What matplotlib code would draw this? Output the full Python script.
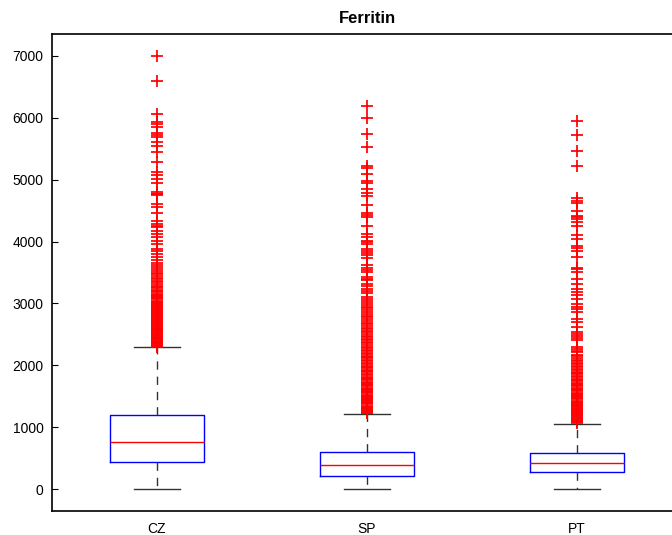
import matplotlib
matplotlib.use("Agg")
import matplotlib.pyplot as plt

plt.rcParams['font.family'] = ['Liberation Sans', 'DejaVu Sans']

categories = ["CZ", "SP", "PT"]
q1 = [440, 207, 272]
medians = [761, 386, 418]
q3 = [1196, 609, 587]
whisker_low = [0, 0, 0]
whisker_high = [2290, 1215, 1055]

outliers_cz = [
    2305, 2318, 2330, 2342, 2355, 2368, 2380, 2395, 2410, 2422, 2436, 2450, 2465, 2480,
    2494, 2508, 2522, 2537, 2550, 2566, 2580, 2596, 2610, 2625, 2640, 2656, 2670, 2686,
    2700, 2716, 2732, 2748, 2762, 2778, 2795, 2810, 2826, 2842, 2858, 2875, 2890, 2906,
    2922, 2940, 2958, 2975, 2992, 3010, 3028, 3046, 3065, 3084, 3102, 3120, 3140, 3160,
    3180, 3200, 3222, 3245, 3268, 3290, 3315, 3340, 3365, 3390, 3415, 3440, 3470, 3500,
    3530, 3560, 3590, 3620,
    3655, 3694, 3747, 3801, 3840, 3882, 3962, 4016, 4070, 4124, 4177, 4231, 4258, 4285,
    4339, 4457, 4553, 4608, 4750, 4765, 4775,
    4795, 4947, 5011, 5076, 5118, 5290, 5452, 5548, 5602, 5682, 5721, 5753, 5855, 5892,
    5935, 6060, 6585, 7000,
]
outliers_sp = [
    1225, 1240, 1255, 1270, 1285, 1300, 1318, 1335, 1352, 1370, 1388, 1405, 1422, 1440,
    1458, 1476, 1494, 1512, 1530, 1548, 1566, 1584, 1602, 1620, 1640, 1660, 1680, 1700,
    1720, 1740, 1760, 1780, 1800, 1820, 1842, 1864, 1886, 1908, 1930, 1952, 1974, 1996,
    2018, 2040, 2064, 2088, 2112, 2136, 2160, 2184, 2208, 2232, 2256, 2280, 2305, 2330,
    2355, 2380, 2405, 2430, 2456, 2482, 2508, 2534, 2560, 2586, 2612, 2638, 2665, 2692,
    2720, 2748, 2776, 2804, 2832, 2860, 2890, 2920, 2950, 2980, 3010, 3040, 3070, 3100,
    3166, 3200, 3240, 3280, 3317, 3371, 3400, 3424, 3505, 3540, 3580, 3613, 3742, 3780,
    3820, 3855, 3882, 3968, 3990, 4016, 4070, 4124, 4258, 4392, 4430, 4462, 4591, 4742,
    4785, 4850, 4946, 4984, 5091, 5183, 5226, 5522, 5737, 5989, 6194,
]
outliers_pt = [
    1070, 1085, 1100, 1115, 1130, 1146, 1162, 1178, 1194, 1210, 1226, 1242, 1258, 1275,
    1292, 1309, 1326, 1343, 1360, 1378, 1396, 1414, 1432, 1450, 1468, 1486, 1505, 1524,
    1543, 1562, 1581, 1600, 1620, 1640, 1660, 1680, 1700, 1722, 1744, 1766, 1788, 1810,
    1832, 1855, 1878, 1901, 1924, 1948, 1972, 1996, 2020, 2045, 2070, 2095, 2120, 2145,
    2165,
    2215, 2240, 2270, 2296, 2403, 2440, 2470, 2500, 2538, 2618, 2699, 2753, 2860, 2914,
    2950, 2995, 3075, 3129, 3183, 3237, 3317, 3398, 3505, 3559, 3575, 3747, 3855, 3898,
    3935, 4043, 4113, 4258, 4312, 4366, 4392, 4419, 4500, 4618, 4661, 4704, 5226, 5457,
    5726, 5952,
]
outliers = [outliers_cz, outliers_sp, outliers_pt]
yticks = [0, 1000, 2000, 3000, 4000, 5000, 6000, 7000]

stats = []
for i, name in enumerate(categories):
    stats.append(dict(label=name, q1=q1[i], med=medians[i], q3=q3[i],
                      whislo=whisker_low[i], whishi=whisker_high[i],
                      fliers=outliers[i]))

fig = plt.figure(figsize=(6.72, 5.35), dpi=100)
ax = fig.add_axes([52/672, 24/535, 630/672, 477/535])

ax.bxp(stats, positions=[1, 2, 3], widths=0.45, showfliers=True,
       boxprops=dict(color='blue', linewidth=1.0),
       medianprops=dict(color='red', linewidth=1.0),
       whiskerprops=dict(color='#333333', linewidth=1.0, linestyle=(0, (6, 5))),
       capprops=dict(color='#333333', linewidth=1.0),
       capwidths=0.22,
       flierprops=dict(marker='+', markeredgecolor='red', markersize=8,
                       markeredgewidth=1.25, linestyle='none'))

ax.set_xlim(0.5, 3.5)
ax.set_ylim(-350, 7350)
ax.set_yticks(yticks)
ax.set_yticklabels([str(v) for v in yticks], fontsize=10)
ax.set_xticks([1, 2, 3])
ax.set_xticklabels(categories, fontsize=10)
ax.tick_params(axis='y', direction='in', length=4, width=0.8, right=False, pad=6)
ax.tick_params(axis='x', length=0, pad=8)
for s in ['left', 'bottom', 'top']:
    ax.spines[s].set_linewidth(1.2)
ax.spines['right'].set_visible(False)
ax.set_title("Ferritin", fontsize=12, fontweight='bold', pad=8)

fig.savefig("out.png", dpi=100)
